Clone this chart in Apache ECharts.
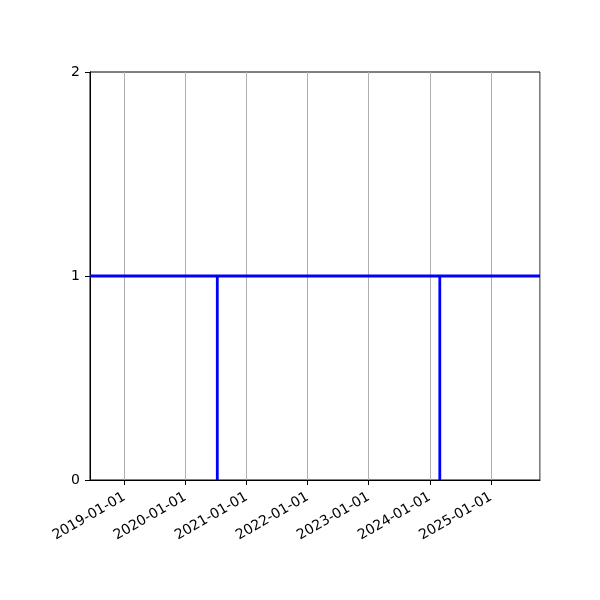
<!DOCTYPE html>
<html>
<head>
<meta charset="utf-8">
<script src="https://cdn.jsdelivr.net/npm/echarts@6/dist/echarts.min.js"></script>
<style>
html,body{margin:0;padding:0;background:#fff;}
#chart{width:600px;height:600px;}
</style>
</head>
<body>
<div id="chart"></div>
<script>
// Data
const rangeStart = '2018-06-10';
const rangeEnd = '2025-10-21';
const baseValue = 1;
const eventDates = ['2020-07-10', '2024-03-01'];
const eventValues = [0, 0];
const yTicks = [0, 1, 2];

function ts(s){ const p = s.split('-').map(Number); return new Date(p[0], p[1]-1, p[2]).getTime(); }

const lineData = [[ts(rangeStart), baseValue]];
eventDates.forEach((d, i) => {
  lineData.push([ts(d), baseValue]);
  lineData.push([ts(d), eventValues[i]]);
  lineData.push([ts(d), baseValue]);
});
lineData.push([ts(rangeEnd), baseValue]);

function pad(n){ return (n < 10 ? '0' : '') + n; }

const chart = echarts.init(document.getElementById('chart'), null, {renderer: 'canvas'});
const FONT = 'DejaVu Sans';
chart.setOption({
  animation: false,
  backgroundColor: '#fff',
  grid: {
    left: 90, right: 60, top: 72, bottom: 120,
    show: true, borderColor: '#000', borderWidth: 1, backgroundColor: 'transparent'
  },
  xAxis: {
    type: 'time',
    min: ts(rangeStart),
    max: ts(rangeEnd),
    minInterval: 365 * 86400000,
    maxInterval: 366 * 86400000,
    axisLine: { show: true, lineStyle: { color: '#000', width: 1 } },
    axisTick: { show: true, inside: false, length: 5, lineStyle: { color: '#000', width: 1 } },
    splitLine: { show: true, lineStyle: { color: '#b0b0b0', width: 1 } },
    minorTick: { show: false },
    axisLabel: {
      rotate: 30,
      margin: 16,
      color: '#000',
      fontFamily: FONT,
      fontSize: 14,
      showMinLabel: false,
      showMaxLabel: false,
      hideOverlap: false,
      formatter: function (v) {
        const d = new Date(v);
        return d.getFullYear() + '-' + pad(d.getMonth() + 1) + '-' + pad(d.getDate());
      }
    }
  },
  yAxis: {
    type: 'value',
    min: yTicks[0],
    max: yTicks[yTicks.length - 1],
    interval: 1,
    axisLine: { show: true, lineStyle: { color: '#000', width: 1 } },
    axisTick: { show: true, inside: false, length: 5, lineStyle: { color: '#000', width: 1 } },
    splitLine: { show: false },
    axisLabel: { color: '#000', fontFamily: FONT, fontSize: 14, margin: 10 }
  },
  series: [{
    type: 'line',
    data: lineData,
    showSymbol: false,
    symbol: 'none',
    lineStyle: { color: '#0000ff', width: 2.8 },
    itemStyle: { color: '#0000ff' },
    clip: true
  }]
});
</script>
</body>
</html>
